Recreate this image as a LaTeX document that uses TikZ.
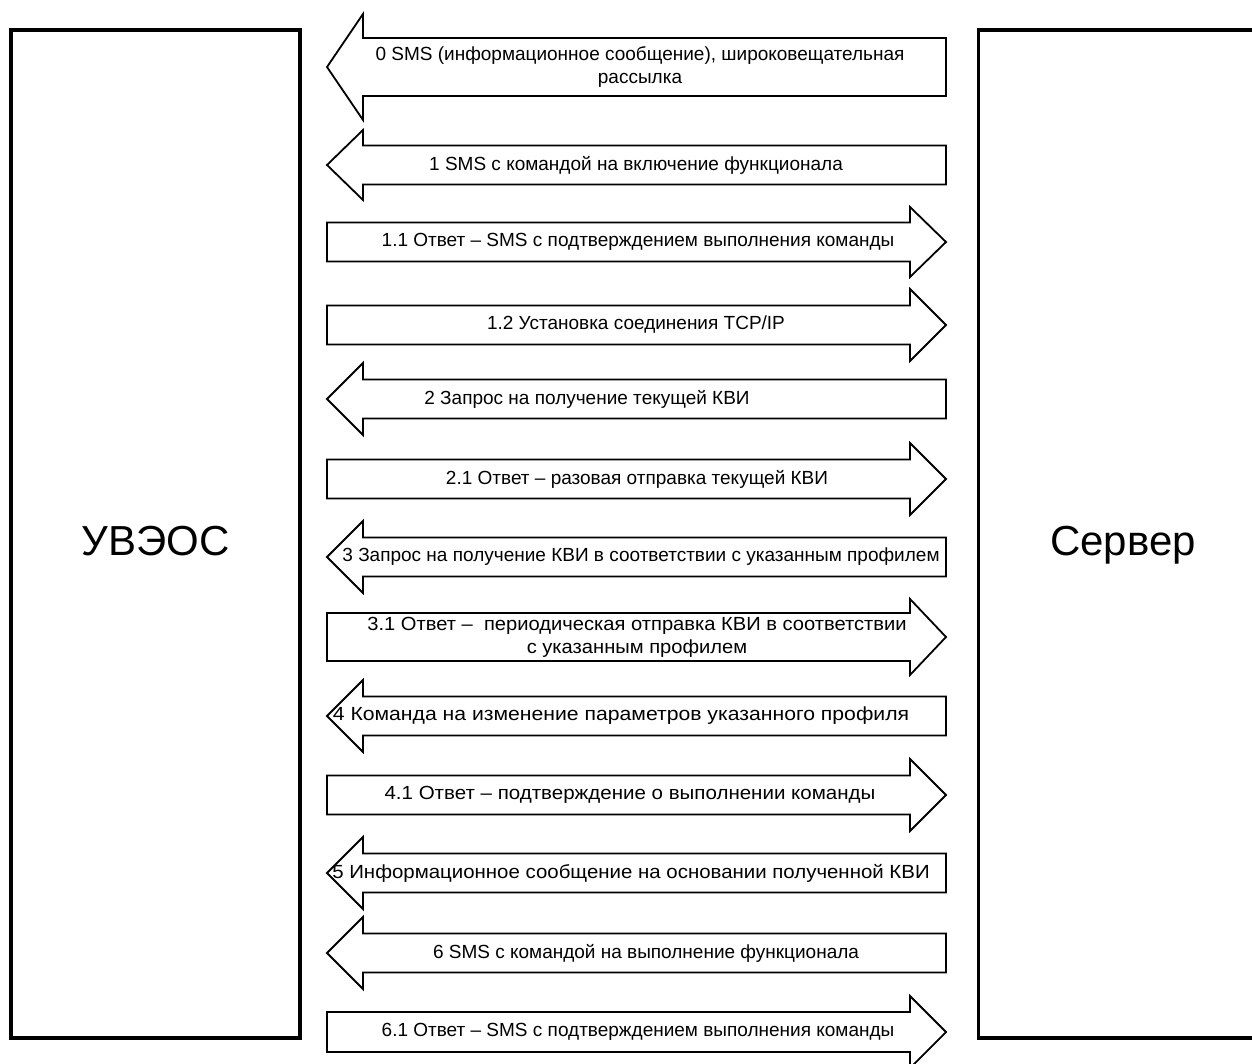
\documentclass[tikz,border=0pt]{standalone}
\usepackage{fontspec}
\setmainfont{Liberation Sans}
\usepackage{graphicx}
\usepackage{tikz}

\begin{document}
\begin{tikzpicture}[x=1pt, y=-1pt,
    party/.style={draw, line width=3.5pt, minimum width=289pt, minimum height=1008pt,
        text height=43pt, text depth=0pt, font=\fontsize{42}{48}\selectfont},
    outline/.style={draw, line width=1.8pt, line join=miter},
    msg/.style={inner sep=0pt, align=center, font=\fontsize{19}{23}\selectfont}]
    \useasboundingbox (0,0) rectangle (1252,1064);

    % the two parties
    \node[party] (uveos) at (155.5,534) {УВЭОС};
    \node[party] (server) at (1123,534) {Сервер};

    % arrows to the left: y / half shaft / half head
    \foreach \y/\h/\H in {67/29/53, 165/19.5/35, 399/19.5/36, 557/19.5/36, 716/19.5/36, 873/19.5/36, 953/19.5/36} {
        \draw[outline] (946,{\y-\h}) -- (363,{\y-\h}) -- (363,{\y-\H}) -- (327,\y)
            -- (363,{\y+\H}) -- (363,{\y+\h}) -- (946,{\y+\h}) -- cycle;
    }
    % arrows to the right
    \foreach \y/\h/\H in {242/19.5/35, 325/19.5/36, 479/19.5/36, 637/24/38, 795/19.5/36, 1032/20/36} {
        \draw[outline] (327,{\y-\h}) -- (910,{\y-\h}) -- (910,{\y-\H}) -- (946,\y)
            -- (910,{\y+\H}) -- (910,{\y+\h}) -- (327,{\y+\h}) -- cycle;
    }

    % messages
    \node[msg] (m0) at (640,67) {0 SMS (информационное сообщение), широковещательная\\рассылка};
    \node[msg] (m1) at (636,165) {1 SMS с командой на включение функционала};
    \node[msg] (m11) at (638,242) {1.1 Ответ – SMS с подтверждением выполнения команды};
    \node[msg] (m12) at (636,325) {1.2 Установка соединения TCP/IP};
    \node[msg] (m2) at (587,399) {2 Запрос на получение текущей КВИ};
    \node[msg] (m21) at (637,479) {2.1 Ответ – разовая отправка текущей КВИ};
    \node[msg] (m3) at (641,557) {3 Запрос на получение КВИ в соответствии с указанным профилем};
    \node[msg] (m31) at (637,637) {\scalebox{1.06}[1]{\begin{tabular}{@{}c@{}}3.1 Ответ –\ \ периодическая отправка КВИ в соответствии\\с указанным профилем\end{tabular}}};
    \node[msg] (m4) at (621,716) {\scalebox{1.115}[1]{4 Команда на изменение параметров указанного профиля}};
    \node[msg] (m41) at (630,795) {\scalebox{1.08}[1]{4.1 Ответ – подтверждение о выполнении команды}};
    \node[msg] (m5) at (631,873) {\scalebox{1.075}[1]{5 Информационное сообщение на основании полученной КВИ}};
    \node[msg] (m6) at (646,953) {6 SMS с командой на выполнение функционала};
    \node[msg] (m61) at (638,1032) {6.1 Ответ – SMS с подтверждением выполнения команды};
\end{tikzpicture}
\end{document}
